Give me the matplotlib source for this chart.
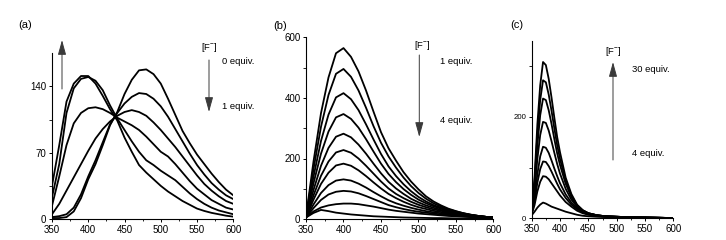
import matplotlib
matplotlib.use("Agg")
import matplotlib.pyplot as plt
from matplotlib.ticker import FixedLocator

plt.rcParams['font.family'] = ['Liberation Sans', 'DejaVu Sans']
plt.rcParams['mathtext.default'] = 'regular'

# ---------------- data ----------------
wl_ab = [350, 360, 370, 380, 390, 400, 410, 420, 430, 440, 450, 460, 470,
         480, 490, 500, 510, 520, 530, 540, 550, 560, 570, 580, 590, 600]

# panel (a): 0 -> 1 equiv. F-
a_A = [35, 78, 124, 143, 151, 151, 143, 130, 116, 104, 86, 71, 57, 49, 42, 35, 29, 24, 19, 15, 11, 8.5, 6.5, 5, 3.5, 2.5]
a_B = [23, 58, 112, 138, 148, 150, 146, 136, 120, 106, 94, 82, 71, 62, 57, 51, 46, 41, 34, 27, 21, 16, 12, 9, 7, 5]
a_C = [14, 45, 78, 101, 112, 117, 118, 116, 112, 107, 103, 99, 94, 87, 79, 71, 66, 58, 49, 40, 32, 26, 20, 16, 12, 10]
a_D = [5, 16, 30, 44, 58, 72, 85, 95, 103, 109, 113, 115, 113, 109, 102, 94, 85, 76, 66, 56, 46, 37, 30, 24, 19, 16]
a_E = [2, 3, 5, 12, 26, 45, 62, 81, 100, 112, 122, 129, 133, 132, 127, 119, 108, 95, 82, 69, 57, 47, 38, 31, 25, 21]
a_F = [1, 1, 2, 8, 22, 42, 58, 78, 99, 113, 132, 147, 157, 158, 153, 143, 127, 110, 93, 80, 68, 58, 48, 39, 31, 25]
series_a = [a_A, a_B, a_C, a_D, a_E, a_F]

# panel (b): 1 -> 4 equiv. F-
b_1 = [8, 190, 350, 468, 548, 565, 536, 488, 425, 355, 287, 234, 193, 155, 124, 98, 75, 58, 45, 34, 26, 19, 14, 10, 7, 5]
b_2 = [7, 165, 305, 410, 480, 496, 470, 425, 368, 307, 252, 207, 170, 137, 109, 86, 67, 52, 41, 32, 25, 19, 14, 10, 7, 5]
b_3 = [7, 140, 258, 345, 402, 416, 396, 360, 313, 263, 215, 174, 142, 115, 92, 73, 58, 46, 37, 29, 23, 18, 13, 10, 7, 5]
b_4 = [6, 118, 216, 289, 336, 347, 331, 302, 264, 223, 183, 149, 122, 99, 80, 64, 52, 42, 34, 27, 22, 17, 13, 10, 7, 5]
b_5 = [6, 96, 176, 235, 272, 282, 270, 246, 216, 183, 151, 123, 101, 83, 67, 55, 45, 37, 30, 25, 20, 16, 12, 9, 7, 5]
b_6 = [6, 78, 143, 190, 220, 228, 219, 200, 176, 150, 124, 101, 83, 69, 57, 47, 39, 32, 27, 22, 18, 14, 11, 9, 7, 5]
b_7 = [5, 64, 116, 153, 177, 183, 176, 161, 142, 121, 101, 83, 69, 57, 47, 39, 33, 27, 23, 19, 16, 13, 10, 8, 6, 5]
b_8 = [5, 48, 86, 112, 127, 131, 127, 117, 104, 89, 75, 62, 52, 44, 37, 31, 26, 22, 19, 16, 13, 11, 9, 7, 5, 4]
b_9 = [5, 36, 63, 81, 90, 93, 91, 85, 76, 66, 56, 46, 39, 33, 28, 24, 21, 18, 15, 13, 11, 9, 7, 6, 5, 4]
b_10 = [5, 25, 38, 45, 49, 51, 51, 49, 45, 41, 36, 31, 27, 24, 21, 18, 16, 14, 12, 10, 9, 8, 6, 5, 4, 3]
b_11 = [5, 20, 30, 26, 21, 18, 15, 13, 11, 9, 8, 7, 6, 5, 4.5, 4, 3.5, 3, 3, 2.5, 2, 2, 1.5, 1.5, 1, 1]
series_b = [b_1, b_2, b_3, b_4, b_5, b_6, b_7, b_8, b_9, b_10, b_11]

# panel (c): 4 -> 30 equiv. F-
wl_c = [350, 355, 360, 365, 370, 375, 380, 385, 390, 395, 400, 410, 420,
        430, 440, 450, 465, 480, 500, 525, 550, 575, 600]
c_1 = [15, 80, 185, 262, 308, 302, 275, 238, 198, 160, 130, 80, 48, 27, 16, 10, 6, 4, 3, 2, 1.5, 1, 0.5]
c_2 = [14, 72, 165, 233, 272, 268, 244, 212, 177, 144, 117, 74, 45, 26, 16, 10, 6, 4, 3, 2, 1.5, 1, 0.5]
c_3 = [13, 64, 144, 203, 236, 233, 213, 186, 156, 128, 105, 68, 42, 25, 15, 10, 6, 4, 3, 2, 1.5, 1, 0.5]
c_4 = [12, 52, 117, 164, 190, 188, 173, 152, 129, 107, 88, 58, 37, 23, 14, 9, 6, 4, 3, 2, 1.5, 1, 0.5]
c_5 = [10, 40, 87, 122, 141, 139, 129, 114, 98, 83, 69, 47, 31, 20, 13, 9, 5.5, 4, 3, 2, 1.5, 1, 0.5]
c_6 = [9, 33, 70, 97, 112, 111, 103, 92, 80, 68, 57, 40, 27, 18, 12, 8, 5, 3.5, 3, 2, 1.5, 1, 0.5]
c_7 = [8, 26, 53, 72, 83, 82, 77, 69, 61, 53, 45, 32, 23, 15, 10, 7, 4.5, 3, 2.5, 2, 1.5, 1, 0.5]
c_8 = [6, 13, 21, 27, 31, 29, 26, 23, 21, 19, 17, 13, 10, 7, 5, 4, 3, 2.5, 2, 1.5, 1, 0.8, 0.5]
series_c = [c_1, c_2, c_3, c_4, c_5, c_6, c_7, c_8]

xticks = [350, 400, 450, 500, 550, 600]
xminor = [375, 425, 475, 525, 575]
yticks_a, yminor_a = [0, 70, 140], [35, 105]
yticks_b, yminor_b = [0, 200, 400, 600], [100, 300, 500]
yticks_c, yminor_c = [0, 200], [100, 300]

# ---------------- layout ----------------
W, H = 726, 240
fig = plt.figure(figsize=(W / 100, H / 100), dpi=100)


def px_axes(l, r, b, t):
    return fig.add_axes([l / W, 1 - b / H, (r - l) / W, (b - t) / H])


def style(ax, ymax, yt, ym, ylab_size=7.0):
    ax.set_xlim(350, 600)
    ax.set_ylim(0, ymax)
    for s in ['top', 'right']:
        ax.spines[s].set_visible(False)
    for s in ['left', 'bottom']:
        ax.spines[s].set_linewidth(0.8)
    ax.xaxis.set_major_locator(FixedLocator(xticks))
    ax.xaxis.set_minor_locator(FixedLocator(xminor))
    ax.yaxis.set_major_locator(FixedLocator(yt))
    ax.yaxis.set_minor_locator(FixedLocator(ym))
    ax.tick_params(which='major', direction='out', length=2.5, width=0.7,
                   pad=1.5, labelsize=7.0)
    ax.tick_params(which='minor', direction='out', length=1.5, width=0.6)
    ax.tick_params(axis='y', which='minor', length=2.5)
    ax.tick_params(axis='y', labelsize=ylab_size)


ax_a = px_axes(52, 233.3, 219, 53.3)
ax_b = px_axes(306, 493.5, 219, 37.5)
ax_c = px_axes(531.7, 673.3, 218.3, 40.7)

for s in series_a:
    ax_a.plot(wl_ab, s, color='black', lw=1.3, clip_on=True)
for s in series_b:
    ax_b.plot(wl_ab, s, color='black', lw=1.3, clip_on=True)
for s in series_c:
    ax_c.plot(wl_c, s, color='black', lw=1.3, clip_on=True)

style(ax_a, 175, yticks_a, yminor_a)
style(ax_b, 600, yticks_b, yminor_b)
style(ax_c, 350, yticks_c, yminor_c, ylab_size=5.6)


# ---------------- annotations ----------------
def ftxt(x, y, s, size=6.8, ha='left'):
    fig.text(x / W, 1 - y / H, s, fontsize=size, ha=ha, va='center')


def farrow(x, y0, y1):
    fig.add_artist(matplotlib.patches.FancyArrowPatch(
        (x / W, 1 - y0 / H), (x / W, 1 - y1 / H), transform=fig.transFigure,
        arrowstyle='-|>,head_length=0.9,head_width=0.25', mutation_scale=10,
        color='#3a3a3a', lw=0.7, shrinkA=0, shrinkB=0))


ftxt(25, 25, '(a)', size=8, ha='center')
ftxt(280, 25.7, '(b)', size=8, ha='center')
ftxt(517, 25, '(c)', size=8, ha='center')

ftxt(209, 48, '[F$^{-}$]', ha='center')
ftxt(221.7, 61, '0 equiv.')
ftxt(221.7, 106.7, '1 equiv.')
farrow(209, 60, 112)
farrow(62, 89, 40)

ftxt(422, 45, '[F$^{-}$]', ha='center')
ftxt(440, 61, '1 equiv.')
ftxt(440, 120.7, '4 equiv.')
farrow(419.3, 55, 137)

ftxt(613.3, 51.7, '[F$^{-}$]', ha='center')
ftxt(632.3, 69, '30 equiv.')
ftxt(632.3, 153.3, '4 equiv.')
farrow(613, 160, 62)

fig.savefig('out.png', dpi=100)
